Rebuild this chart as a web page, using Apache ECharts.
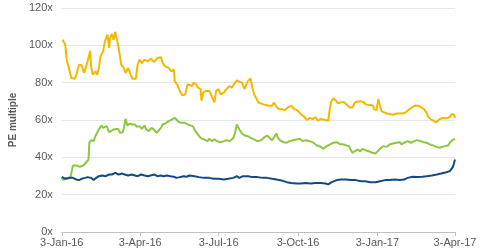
<!DOCTYPE html>
<html><head><meta charset="utf-8">
<script src="https://cdn.jsdelivr.net/npm/echarts@6/dist/echarts.min.js"></script>
<style>html,body{margin:0;padding:0;background:#fff}#c{width:480px;height:251px}</style>
</head><body><div id="c"></div>
<script>
// x values are days since 3-Jan-2016
var tickDays = [0, 91, 182, 274, 366, 456];
var tickLabels = ['3-Jan-16', '3-Apr-16', '3-Jul-16', '3-Oct-16', '3-Jan-17', '3-Apr-17'];
var yTicks = [0, 20, 40, 60, 80, 100, 120];

var yellowDays = [1,4,6,8,11,15,17,20,23,26,28,31,33,34,36,39,41,43,45,48,50,53,55,56,58,60,62,64,66,69,72,74,77,80,82,86,88,90,93,96,100,103,107,111,115,117,120,124,127,130,131,134,137,140,143,146,148,151,153,156,158,161,162,164,167,171,173,175,177,179,182,184,186,188,191,194,197,201,203,206,209,212,214,216,219,221,223,226,228,233,236,241,244,246,247,249,252,255,259,262,266,270,274,277,281,284,288,291,294,297,300,302,306,309,310,312,315,318,320,323,327,330,334,337,340,343,347,350,352,355,358,361,362,365,367,369,371,374,377,380,384,388,392,395,399,403,406,409,411,414,417,420,422,423,425,428,431,434,436,438,442,446,450,452,455,456];
var yellowVals = [103,100.4,91.4,88.7,82.5,82.1,84.3,89.6,89.3,85.2,88.2,93.2,97.1,88.7,84.3,86.1,84.3,87.9,94.1,96.8,102.1,105.7,98.6,103.9,106.1,103,107.1,106.6,98.6,89.6,87.9,85.2,87.9,84.3,82.1,82.1,89.6,92.3,90.5,92.3,91.4,92.9,91.1,93.2,93.6,90.5,88.7,87.9,86.1,87,80.7,78.9,75.4,73.2,73.6,79.2,80,78.2,80,79.1,77.3,76.5,70.3,74.7,75.6,75.6,73.8,74.7,69.4,75.6,76.5,73.8,72.9,74.7,76.5,78.2,77.3,80,81.2,80.5,80,76.5,79.1,80.9,82.3,77.3,73.8,71.2,69.4,68.5,68,67.6,67.6,69.4,70.3,67.1,65.8,65.8,65.3,66.7,67.6,65.8,64.9,63.2,61.8,60,61.1,60.5,61.5,59.6,60.5,59.6,60,59.6,63.2,69.4,71.7,70.3,69,69.4,69.7,68.5,66.7,66.7,69.4,69.9,69.9,69.7,68.5,68.1,68,67.6,65.8,65.3,71.2,67.6,64.6,64.1,63.5,63.2,62.8,63.5,63.5,63.5,64.1,65.8,66.7,67.6,68.1,67.6,66.7,65.8,66.2,63.9,61.6,60.4,59.6,58.7,58.2,60.4,61.1,60.9,61.6,63.2,62.8,61.1];

var greenDays = [0,2,4,7,10,12,13,17,21,25,28,31,32,34,37,39,41,43,46,48,50,52,55,57,60,62,65,68,71,73,74,76,79,82,85,87,90,93,96,98,101,104,107,110,112,115,117,120,124,128,131,133,136,139,143,146,148,152,155,158,161,165,169,171,174,177,180,184,188,191,195,199,201,203,204,206,209,212,216,219,223,227,231,234,238,241,244,246,249,250,253,257,261,264,268,272,276,279,283,287,291,293,296,300,303,306,308,311,315,319,322,324,327,330,333,335,337,340,343,346,349,352,356,360,364,366,369,373,377,380,384,388,392,394,397,401,405,409,412,416,420,423,427,431,435,438,441,444,448,450,453,456];
var greenVals = [29,27.8,29,28.5,29,33.5,35.6,35.6,34.9,35.6,37.1,38.8,47.8,49.2,48.7,51.3,52.2,54.9,57.1,55.8,54.9,56.7,53.5,53.1,54.9,55.8,55.3,53.1,53.5,53.5,60.6,57.1,58.1,57.6,57.6,56.3,56.7,55.3,57.1,54.9,54,55.8,54.9,53.1,53.5,55.8,57.6,58.1,59.4,60.3,61.2,60.6,58.8,58.5,58.5,57.6,57,56.7,54,52.2,50.4,49.6,48.7,49.9,48.7,49.6,48.7,48.1,48.7,49.2,48.7,50.4,53.1,57.6,57.1,54.9,52.8,51.7,51.3,50.4,49.6,48.7,49.2,50.4,51.7,50.4,49.2,49.9,52.8,51,49.2,48.1,47.8,48.7,49.2,49.6,49.9,48.7,49.2,48.7,48.1,47.8,46.3,45.8,44.6,45.6,46.3,46.9,47.8,48.1,47.2,47.8,46.9,46.3,46,45.1,42.4,43.3,44.2,43.3,44.6,43.8,43.3,42.4,42.1,42.8,44.6,46,45.6,46.9,47.4,47.8,48.1,46.9,47.8,48.7,47.8,48.7,49.2,48.7,48.1,47.8,46.9,46.3,45.6,45.1,45.6,46,46.3,47.8,49.2,49.9];

var blueDays = [0,4,8,13,17,20,23,27,30,34,37,40,43,47,51,55,58,62,66,70,73,77,81,85,88,92,96,100,103,107,111,115,118,122,126,130,133,137,141,145,148,154,159,165,171,176,182,188,193,199,203,206,210,216,221,227,233,238,244,249,255,261,266,272,277,283,289,294,300,306,309,313,319,324,330,335,341,347,352,358,364,369,375,380,386,392,397,401,407,412,418,423,429,435,440,446,450,452,454,455,456];
var blueVals = [29.6,28.5,29,29,28.1,27.8,28.5,29,29.4,29,27.8,29,29.9,30.3,29.9,30.8,30.8,31.7,30.8,31.3,30.8,30.3,30.8,30.3,29.9,30.8,30.3,29.9,30.3,30.8,29.9,30.3,29.9,30.3,29.9,29.6,29,29.4,29.9,29.6,30.3,29.9,29.4,29,29,28.5,28.5,28.1,28.5,29,29.9,29,29.9,29.9,29.4,29.4,29,29,28.5,28.1,27.6,26.7,26.3,26,26,26.3,26,26.3,26.2,26,25.5,26.7,27.8,28.1,28.1,27.8,27.8,27.2,27.2,26.7,26.7,27.2,27.8,27.8,28.1,27.8,28.1,29,29.6,29.4,29.6,29.9,30.3,30.8,31.3,32,32.6,33.8,35.3,37.1,38.8];

function pairs(d, v) { return d.map(function (x, i) { return [x, v[i]]; }); }

var chart = echarts.init(document.getElementById('c'), null, { renderer: 'canvas' });
var lblColor = '#595959';
var fontFam = 'Liberation Sans, Arial, sans-serif';
chart.setOption({
  animation: false,
  grid: { left: 48, right: 25, top: 8, bottom: 19, containLabel: false },
  xAxis: {
    type: 'value', min: 0, max: 456,
    axisLine: { show: true, lineStyle: { color: '#bfbfbf', width: 1 } },
    axisTick: { show: true, length: 4, lineStyle: { color: '#bfbfbf' }, customValues: tickDays },
    splitLine: { show: false },
    axisLabel: {
      customValues: tickDays, color: lblColor, fontSize: 11, fontFamily: fontFam, margin: 5,
      showMinLabel: true, showMaxLabel: true,
      formatter: function (val) { var i = tickDays.indexOf(Math.round(val)); return i >= 0 ? tickLabels[i] : ''; }
    }
  },
  yAxis: {
    type: 'value', min: yTicks[0], max: yTicks[yTicks.length - 1], interval: 20,
    name: 'PE multiple', nameLocation: 'middle', nameGap: 34, nameRotate: 90,
    nameTextStyle: { color: lblColor, fontSize: 10, fontFamily: fontFam, fontWeight: 'bold' },
    axisLine: { show: false }, axisTick: { show: false },
    splitLine: { show: true, lineStyle: { color: '#e6e6e6', width: 1 } },
    axisLabel: { color: lblColor, fontSize: 11, fontFamily: fontFam, margin: 9, formatter: function (v) { return v + 'x'; } }
  },
  series: [
    { type: 'line', data: pairs(yellowDays, yellowVals), showSymbol: false, lineStyle: { color: '#F5B800', width: 2 }, itemStyle: { color: '#F5B800' } },
    { type: 'line', data: pairs(greenDays, greenVals), showSymbol: false, lineStyle: { color: '#8DC63F', width: 2 }, itemStyle: { color: '#8DC63F' } },
    { type: 'line', data: pairs(blueDays, blueVals), showSymbol: false, lineStyle: { color: '#124A87', width: 2 }, itemStyle: { color: '#124A87' } }
  ]
});
</script>
</body></html>
